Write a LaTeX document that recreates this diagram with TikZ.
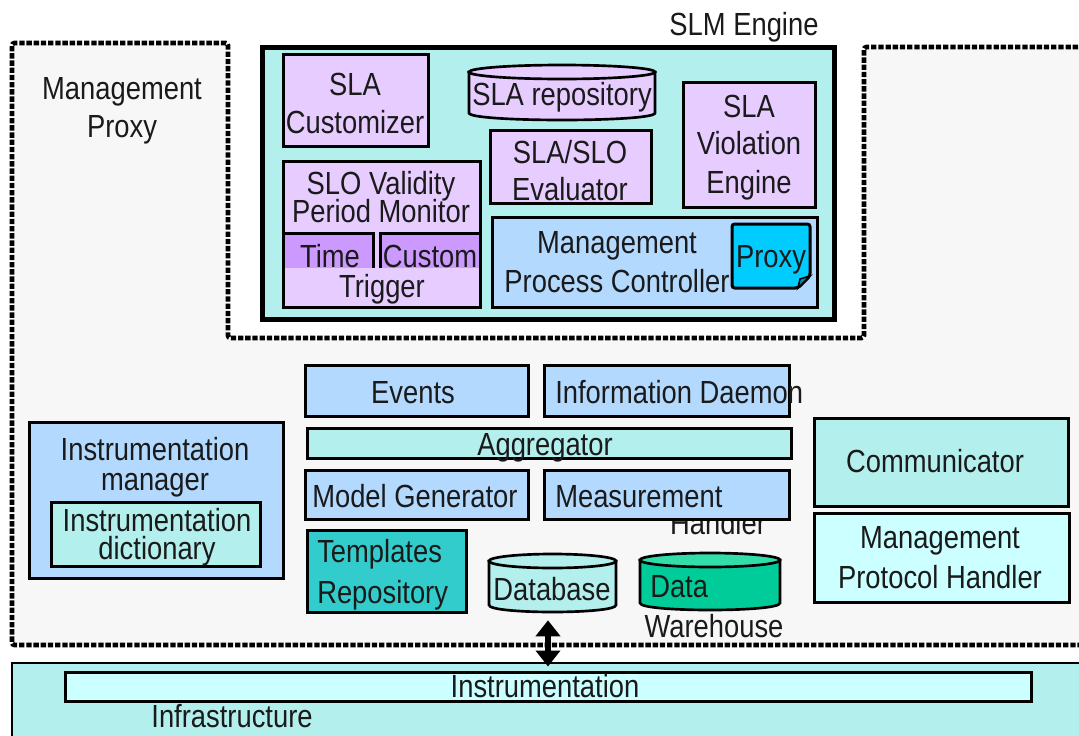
\documentclass[tikz,border=0pt]{standalone}
\usepackage{fontspec}
\setmainfont{Liberation Sans}[FakeStretch=0.855]
\usetikzlibrary{arrows.meta}

\definecolor{lilac}{HTML}{E6CCFF}
\definecolor{violetfill}{HTML}{CC99FF}
\definecolor{aquafill}{HTML}{B3EFEC}
\definecolor{skyfill}{HTML}{B3D9FF}
\definecolor{proxyfill}{HTML}{00CCFF}
\definecolor{tealfill}{HTML}{33CCCC}
\definecolor{paleaqua}{HTML}{CCFFFF}
\definecolor{whbody}{HTML}{00CC99}
\definecolor{whtop}{HTML}{33DDAA}
\definecolor{panelgray}{HTML}{F7F7F7}
\definecolor{ink}{HTML}{1A1A1A}

% box: name, x1, y1, x2, y2, style  (pixel units, y downwards)
\newcommand\boxat[6]{%
  \node[#6, minimum width={(#4-#2)*0.75pt}, minimum height={(#5-#3)*0.75pt}]
    (#1) at ({(#2+#4)/2},{(#3+#5)/2}) {};}
% cylinder: name, x1, y1, x2, y2, ry, body colour, top colour
\newcommand\cylat[8]{%
  \node[inner sep=0pt, minimum width={(#4-#2)*0.75pt}, minimum height={(#5-#3)*0.75pt}]
    (#1) at ({(#2+#4)/2},{(#3+#5)/2}) {};
  \filldraw[cylline, fill=#7] (#2,{#3+#6}) -- (#2,{#5-#6})
    .. controls (#2,{#5+#6/3}) and (#4,{#5+#6/3}) .. (#4,{#5-#6}) -- (#4,{#3+#6}) -- cycle;
  \filldraw[cylline, fill=#8] ({(#2+#4)/2},{#3+#6})
    ellipse [x radius={(#4-#2)/2*0.75pt}, y radius={#6*0.75pt}];}
% text line placed on its baseline: name, x, y, text
\newcommand\lbl[4]{\node[txt] (#1) at (#2,#3) {#4};}
\newcommand\lblw[4]{\node[txt, anchor=base west] (#1) at (#2,#3) {#4};}

\tikzset{
  box/.style={draw=black, line width=2.25pt, inner sep=0pt},
  cylline/.style={draw=black, line width=2pt},
  txt/.style={anchor=base, inner sep=0pt, text=ink, font=\fontsize{24}{28}\selectfont},
  proxyborder/.style={draw=black, line width=3.6pt, dash pattern=on 4pt off 1.4pt},
  biarrow/.style={line width=4pt,
    {Triangle[width=18pt,length=12pt]}-{Triangle[width=18pt,length=12pt]}},
}

\begin{document}
\begin{tikzpicture}[x=0.75pt, y=-0.75pt]
\useasboundingbox (0,0) rectangle (1079,736);
\clip (0,0) rectangle (1079,736);
\fill[white] (0,0) rectangle (1079,736);

% management proxy region
\path[fill=panelgray] (12,43) -- (228,43) -- (228,338) -- (864,338) -- (864,47)
  -- (1090,47) -- (1090,645) -- (12,645) -- cycle;
\draw[proxyborder, rounded corners=2pt] (1090,645) -- (12,645) -- (12,43) -- (228,43)
  -- (228,338) -- (864,338) -- (864,47) -- (1090,47);
\lbl{mp1}{122}{99}{Management}
\lbl{mp2}{122}{137}{Proxy}

% SLM engine
\boxat{slm}{262}{47}{834}{319}{box, fill=aquafill, line width=3.75pt}
\lbl{slmt}{744}{35}{SLM Engine}

\boxat{cust}{283}{54}{428}{146}{box, fill=lilac}
\lbl{cust1}{355}{95}{SLA}
\lbl{cust2}{355}{133}{Customizer}

\cylat{repo}{469}{65}{655}{120}{7}{lilac}{lilac}
\lbl{repot}{562}{105}{SLA repository}

\boxat{eval}{490}{130}{651}{203}{box, fill=lilac}
\lbl{eval1}{570}{163}{SLA/SLO}
\lbl{eval2}{570}{200}{Evaluator}

\boxat{viol}{683}{82}{815}{207}{box, fill=lilac}
\lbl{viol1}{749}{117}{SLA}
\lbl{viol2}{749}{154}{Violation}
\lbl{viol3}{749}{193}{Engine}

\boxat{slo}{283}{161}{480}{307}{box, fill=lilac}
\boxat{time}{283}{233}{373}{285}{box, fill=violetfill}
\boxat{custom}{380}{233}{480}{285}{box, fill=violetfill}
\boxat{trig}{284}{268}{480}{306}{fill=lilac, inner sep=0pt}
\draw[line width=2.25pt] (283,161) rectangle (480,307);
\lbl{slo1}{381}{194}{SLO Validity}
\lbl{slo2}{381}{222}{Period Monitor}
\lbl{timet}{330}{267}{Time}
\lbl{customt}{430}{267}{Custom}
\lbl{trigt}{382}{297}{Trigger}

\boxat{mpc}{492}{217}{817}{307}{box, fill=skyfill}
\lbl{mpc1}{617}{253}{Management}
\lbl{mpc2}{617}{292}{Process Controller}
\boxat{proxy}{732}{224}{810}{288}{inner sep=0pt}
\filldraw[draw=black, line width=2.25pt, fill=proxyfill, rounded corners=2pt]
  (732,224) -- (810,224) -- (810,276) -- (798,288) -- (732,288) -- cycle;
\filldraw[draw=black, line width=1.2pt, fill=proxyfill!70!black]
  (810,276) -- (800,279) -- (798,288) -- cycle;
\lbl{proxyt}{771}{267}{Proxy}

% components of the management proxy
\boxat{events}{305}{365}{528}{416}{box, fill=skyfill}
\lbl{eventst}{413}{403}{Events}
\boxat{info}{544}{365}{789}{416}{box, fill=skyfill}
\lblw{infot}{555}{403}{Information Daemon}
\boxat{aggr}{307}{428}{791}{458}{box, fill=aquafill}
\lbl{aggrt}{545}{455}{Aggregator}
\boxat{model}{305}{470}{528}{519}{box, fill=skyfill}
\lblw{modelt}{312}{507}{Model Generator}
\lbl{meas2}{718}{534}{Handler}
\boxat{meas}{544}{470}{789}{519}{box, fill=skyfill}
\lblw{meas1}{555}{507}{Measurement}

\boxat{tmpl}{307}{530}{466}{612}{box, fill=tealfill}
\lblw{tmpl1}{317}{562}{Templates}
\lblw{tmpl2}{317}{603}{Repository}

\cylat{db}{489}{554}{616}{612}{7}{aquafill}{aquafill}
\lbl{dbt}{552}{600}{Database}
\cylat{dw}{640}{553}{780}{610}{7}{whbody}{whtop}
\lblw{dw1}{650}{597}{Data}
\lbl{dw2}{714}{637}{Warehouse}

\boxat{imgr}{29}{422}{283}{578}{box, fill=skyfill}
\lbl{imgr1}{155}{460}{Instrumentation}
\lbl{imgr2}{155}{490}{manager}
\boxat{idict}{51}{502}{260}{566}{box, fill=aquafill}
\lbl{idict1}{157}{531}{Instrumentation}
\lbl{idict2}{157}{559}{dictionary}

\boxat{comm}{814}{418}{1068}{506}{box, fill=aquafill}
\lbl{commt}{935}{472}{Communicator}
\boxat{mph}{814}{513}{1069}{602}{box, fill=paleaqua}
\lbl{mph1}{940}{548}{Management}
\lbl{mph2}{940}{588}{Protocol Handler}

% infrastructure layer
\boxat{infra}{12}{663}{1100}{760}{draw=black, line width=1.5pt, fill=aquafill, inner sep=0pt}
\boxat{instr}{65}{672}{1031}{701}{box, fill=paleaqua}
\lbl{instrt}{545}{697}{Instrumentation}
\lbl{infrat}{232}{727}{Infrastructure}

% database <-> instrumentation
\draw[biarrow, shorten <=6pt, shorten >=3pt] (db.south -| instr.north) -- (instr.north);
\end{tikzpicture}
\end{document}
